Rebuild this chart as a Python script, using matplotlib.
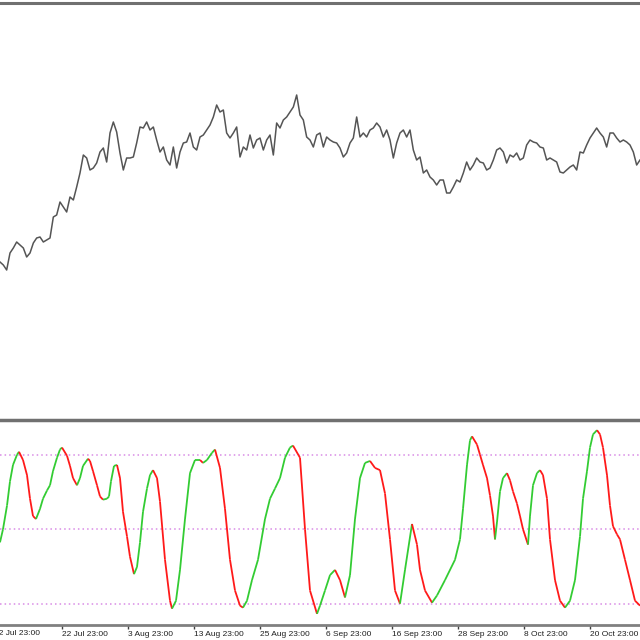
import numpy as np
import matplotlib.pyplot as plt
from matplotlib.collections import LineCollection

# price (close), sampled evenly across the visible bars
price = [115.8, 115.5, 115.0, 116.7, 117.2, 117.8, 117.5, 117.2, 116.3, 116.7,
         117.7, 118.2, 118.3, 117.8, 118.0, 118.2, 120.3, 120.5, 121.8, 121.3,
         120.8, 122.3, 122.0, 123.3, 124.7, 126.5, 126.2, 125.0, 125.2, 125.7,
         126.8, 127.2, 125.8, 128.7, 129.8, 128.8, 126.7, 125.0, 126.2, 126.2,
         126.3, 127.7, 129.3, 129.2, 129.8, 129.0, 129.3, 128.0, 126.8,
         127.3, 126.0, 125.5, 127.3, 125.2, 126.8, 127.7, 127.8, 128.7, 127.3,
         127.0, 128.3, 128.5, 129.0, 129.5, 130.3, 131.5, 130.8, 131.0, 128.7,
         128.2, 128.7, 129.3, 126.3, 127.3, 127.0, 128.5, 127.2, 128.0, 128.2,
         127.0, 128.0, 128.5, 126.5, 129.7, 129.2, 130.0, 130.3, 130.8, 131.3,
         132.5, 130.5, 130.0, 128.3, 128.0, 127.3, 128.5, 128.7,
         127.3, 128.3, 128.0, 127.8, 127.7, 127.2, 126.3, 126.7, 127.7, 128.2,
         130.3, 128.3, 128.7, 128.3, 129.0, 129.2, 129.7, 129.3, 128.3, 129.0,
         128.0, 126.2, 127.7, 128.7, 129.0, 128.3, 129.0, 127.0, 126.0, 126.3,
         124.7, 125.0, 124.3, 124.0, 123.5, 124.0, 124.0, 122.7, 122.7, 123.3,
         124.0, 123.8, 124.7, 125.8, 125.0, 125.5, 126.2, 125.8,
         125.7, 125.0, 125.2, 126.0, 127.0, 127.2, 126.8, 125.7, 126.5, 126.3,
         126.7, 126.0, 126.2, 127.5, 128.0, 127.8, 127.7, 127.3, 127.2, 126.0,
         126.2, 126.0, 125.8, 124.8, 124.7, 125.0, 125.3, 125.5, 125.0, 126.8,
         126.7, 127.5, 128.2, 128.7, 129.2, 128.7, 128.3, 127.3, 128.7, 128.7,
         128.2, 127.8, 128.0, 127.8, 127.5, 126.8, 125.5, 126.0]

# oscillator: bar position and value
osc_bar = [0, 3, 7, 10, 13, 17, 19, 23, 27, 30, 33, 36, 40, 43, 47, 50, 53, 57, 60, 62,
           67, 70, 73, 77, 80, 83, 88, 90, 93, 97, 100, 103, 107, 109, 111, 114, 117, 120,
           123, 127, 130, 134, 137, 140, 143, 147, 150, 153, 157, 160, 165, 170, 172, 176,
           180, 185, 190, 195, 200, 203, 207, 212, 215, 220, 225, 230, 235, 240, 243, 247,
           252, 258, 265, 270, 275, 280, 285, 290, 293, 300, 305, 310, 317, 320, 325, 330,
           335, 340, 345, 350, 355, 360, 365, 370, 375, 380, 385, 390, 395, 400, 405, 412,
           417, 420, 425, 432, 437, 445, 455, 460, 463, 467, 470, 472, 477, 480, 483, 487,
           490, 493, 495, 497, 500, 503, 507, 510, 513, 517, 520, 523, 528, 530, 533, 537,
           540, 543, 547, 550, 555, 560, 565, 570, 575, 580, 583, 587, 590, 593, 597, 600,
           603, 607, 610, 613, 617, 620, 625, 630, 635, 640]
osc_val = [44.7, 50.0, 59.5, 69.3, 75.9, 80.0, 81.2, 77.9, 71.8, 62.3, 55.3, 54.1, 58.2, 62.3,
           65.6, 67.7, 73.4, 78.8, 82.1, 82.9, 79.6, 75.5, 70.6, 67.7, 70.6, 75.5, 78.4, 77.5,
           73.4, 67.7, 63.2, 61.9, 62.3, 63.2, 69.3, 75.5, 75.9, 70.6, 57.0, 47.1, 38.9, 31.9,
           34.8, 44.7, 57.0, 66.4, 71.8, 73.8, 70.6, 61.1, 37.7, 21.2, 18.0, 21.2, 33.6, 54.1,
           72.6, 77.9, 77.9, 76.7, 77.9, 80.8, 82.1, 74.7, 58.2, 37.7, 25.3, 19.2, 18.4, 21.2,
           29.5, 37.7, 54.1, 62.3, 66.4, 70.6, 78.8, 82.9, 83.7, 78.8, 50.0, 25.3, 15.9, 19.2,
           25.3, 31.5, 33.6, 29.5, 22.5, 31.5, 54.1, 70.6, 76.7, 77.5, 74.7, 73.8, 64.4, 45.9,
           25.3, 20.0, 33.6, 52.1, 43.8, 33.6, 25.3, 20.4, 23.3, 29.5, 37.7, 45.9, 58.2, 75.9,
           85.8, 87.4, 84.1, 80.0, 75.9, 70.6, 63.6, 55.3, 45.9, 52.9, 65.2, 70.6, 72.6, 69.7,
           65.2, 60.3, 55.3, 50.0, 43.8, 55.3, 67.7, 72.6, 73.8, 71.8, 62.3, 45.9, 29.5, 21.2,
           18.4, 21.2, 29.5, 47.1, 62.3, 73.4, 82.9, 88.2, 89.9, 88.2, 82.9, 71.8, 59.5, 51.2,
           47.9, 45.9, 37.7, 29.5, 21.2, 19.2]
levels = [80, 50, 20]

tick_bars = [-6, 62, 128, 194, 260, 326, 392, 458, 524, 590]
tick_labels = ['12 Jul 23:00', '22 Jul 23:00', '3 Aug 23:00', '13 Aug 23:00', '25 Aug 23:00',
               '6 Sep 23:00', '16 Sep 23:00', '28 Sep 23:00', '8 Oct 23:00', '20 Oct 23:00']

plt.rcParams['font.family'] = ['Liberation Sans', 'DejaVu Sans']

fig = plt.figure(figsize=(6.4, 6.4), dpi=100)
ax1 = fig.add_axes([0, 220 / 640, 1, 417 / 640])
ax2 = fig.add_axes([0, 15 / 640, 1, 205 / 640])

# price panel
price_bar = np.linspace(0, 640, len(price))
ax1.plot(price_bar, price, color='#555555', lw=1.1)
ax1.set_xlim(0, 640)
ax1.set_ylim(100.0, 141.7)
for s in ['left', 'right', 'bottom']:
    ax1.spines[s].set_visible(False)
ax1.spines['top'].set_color('#707070')
ax1.spines['top'].set_linewidth(2.2)
ax1.set_xticks([])
ax1.set_yticks([])

# oscillator panel
for lv in levels:
    ax2.axhline(lv, color='#d98ce6', lw=1.1, linestyle=(0, (1, 2)))

x = np.array(osc_bar, dtype=float)
y = np.array(osc_val)
pts = np.column_stack([x, y]).reshape(-1, 1, 2)
segs = np.concatenate([pts[:-1], pts[1:]], axis=1)
cols = ['#33cc33' if d >= 0 else '#ff1a1a' for d in np.diff(y)]
ax2.add_collection(LineCollection(segs, colors=cols, linewidths=1.3))

ax2.spines['left'].set_visible(False)
ax2.spines['right'].set_visible(False)
ax2.spines['top'].set_color('#707070')
ax2.spines['top'].set_linewidth(2.5)
ax2.spines['bottom'].set_color('#808080')
ax2.spines['bottom'].set_linewidth(2)
ax2.set_yticks([])
# first label sits left of the visible range, drawn as plain text so it gets cut at the edge
ax2.set_xticks(tick_bars[1:])
ax2.set_xticklabels(tick_labels[1:], ha='left', fontsize=6, color='#202020')
ax2.tick_params(axis='x', direction='out', length=3, width=1, color='#404040', pad=1.5)
ax2.set_xlim(0, 640)
ax2.set_ylim(11.4, 94.0)
ax2.text(tick_bars[0], -0.023, tick_labels[0], transform=ax2.get_xaxis_transform(),
         ha='left', va='top', fontsize=6, color='#202020', clip_on=False)

fig.savefig('out.png', dpi=100)
